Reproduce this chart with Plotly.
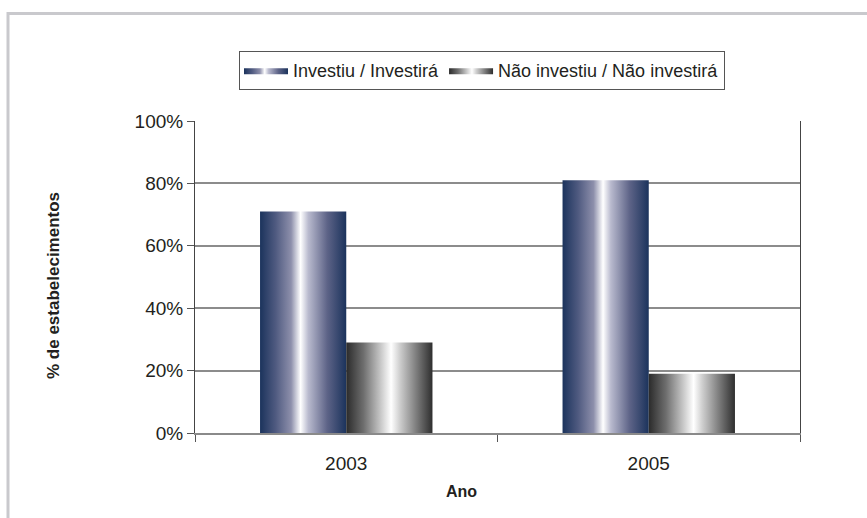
import plotly.graph_objects as go

# data
anos = ["2003", "2005"]
investiu = [71, 81]
nao_investiu = [29, 19]
series_names = ["Investiu / Investirá", "Não investiu / Não investirá"]
y_ticks = [0, 20, 40, 60, 80, 100]
y_tick_labels = ["0%", "20%", "40%", "60%", "80%", "100%"]

FONT = "Liberation Sans, Arial, sans-serif"

# page geometry (pixels) used to place the plot area and the frame
W, H = 867, 518
L, R, T, B = 195, 67, 121, 85
PLOT_W = W - L - R
PLOT_H = H - T - B

BAR_W = 0.285  # width of one bar, in category units


def px_x(px):
    return (px - L) / PLOT_W


def px_y(py):
    return (H - B - py) / PLOT_H


def gradient(kind):
    if kind == 0:
        return [[0.0, "#1b335c"], [0.18, "#4f5a80"], [0.36, "#8d8fab"],
                [0.47, "#ffffff"], [0.56, "#b9bace"], [0.78, "#5d6387"],
                [1.0, "#1b335c"]]
    return [[0.0, "#2b2b2b"], [0.2, "#6e6e6e"], [0.4, "#c8c8c8"],
            [0.52, "#ffffff"], [0.62, "#cfcfcf"], [0.82, "#7a7a7a"],
            [1.0, "#2e2e2e"]]


def bar_trace(center, value, kind, name, show):
    x0 = center - BAR_W if kind == 0 else center
    x1 = x0 + BAR_W
    return go.Scatter(
        x=[x0, x0, x1, x1, x0],
        y=[0, value, value, 0, 0],
        mode="lines",
        fill="toself",
        line=dict(width=0, color="rgba(0,0,0,0)"),
        fillgradient=dict(type="horizontal", colorscale=gradient(kind),
                          start=x0, stop=x1),
        name=name,
        legendgroup=name,
        showlegend=show,
        hovertemplate=f"{name}<br>{anos[center]}: {value}%<extra></extra>",
    )


fig = go.Figure()
for k, values in enumerate([investiu, nao_investiu]):
    for i, v in enumerate(values):
        fig.add_trace(bar_trace(i, v, k, series_names[k], i == 0))

# outer light-grey frame of the figure
fig.add_shape(type="rect", xref="paper", yref="paper",
              x0=px_x(8), x1=px_x(W + 30), y0=px_y(H + 30), y1=px_y(13.5),
              line=dict(color="#c9c9cd", width=3), fillcolor="rgba(0,0,0,0)",
              layer="below")

fig.add_annotation(text="<b>% de estabelecimentos</b>", textangle=-90,
                   xref="paper", yref="paper", x=px_x(53), y=px_y(286),
                   xanchor="center", yanchor="middle",
                   showarrow=False, font=dict(family=FONT, size=17, color="#231f20"))
fig.add_annotation(text="<b>Ano</b>", xref="paper", yref="paper",
                   x=px_x(461), y=px_y(491), xanchor="center", yanchor="middle",
                   showarrow=False,
                   font=dict(family=FONT, size=16, color="#231f20"))

fig.update_layout(
    width=W, height=H,
    margin=dict(l=L, r=R, t=T, b=B),
    paper_bgcolor="white",
    plot_bgcolor="white",
    font=dict(family=FONT, size=19, color="#231f20"),
    legend=dict(orientation="h", x=px_x(482), y=px_y(51),
                xanchor="center", yanchor="top",
                bordercolor="#555555", borderwidth=1,
                font=dict(family=FONT, size=18, color="#231f20"),
                itemwidth=44, tracegroupgap=0),
    showlegend=True,
)

fig.update_xaxes(
    range=[-0.5, 1.5],
    tickvals=[0, 1], ticktext=anos,
    ticks="", ticklabelstandoff=12,
    showgrid=False, zeroline=False,
    showline=True, linecolor="#8a8a8a", linewidth=2,
    minor=dict(tickvals=[-0.5, 0.5, 1.5], ticks="outside", ticklen=7,
               tickcolor="#555555", showgrid=False),
    fixedrange=True,
)
fig.update_yaxes(
    range=[0, 100],
    tickvals=y_ticks, ticktext=y_tick_labels,
    ticks="outside", ticklen=7, tickcolor="#555555",
    showgrid=True, gridcolor="#8c8c8c", gridwidth=1.5,
    zeroline=False,
    showline=True, linecolor="#444444", linewidth=1, mirror=True,
    fixedrange=True,
)

# the page body has a default 8px margin; remove it so the chart sits at 0,0
fig.write_html("out.html", config={"displayModeBar": False},
               post_script="document.body.style.margin='0';")
